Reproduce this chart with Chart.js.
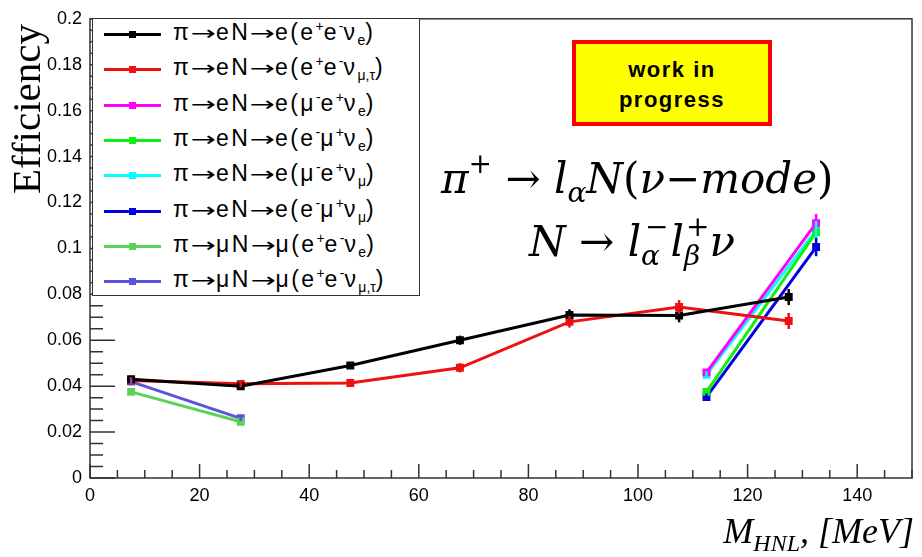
<!DOCTYPE html>
<html>
<head>
<meta charset="utf-8">
<script src="https://cdn.jsdelivr.net/npm/chart.js@4.4.0/dist/chart.umd.min.js"></script>
<style>
  body { margin: 0; background: #fff; }
  #wrap { position: relative; width: 922px; height: 557px; overflow: hidden; }
  #effChart { position: absolute; left: 0; top: 0; }
  #legend {
    position: absolute; left: 92px; top: 18px; width: 328px; height: 278px;
    background: #fff; border: 1.5px solid #333; box-sizing: border-box;
    font-family: "Liberation Sans", Arial, sans-serif; font-size: 23px; color: #000;
  }
  #legend .row { position: absolute; left: 0; height: 35px; width: 100%; }
  #legend .swatch { position: absolute; left: 11px; top: 16px; width: 57px; height: 3px; }
  #legend .mark { position: absolute; left: 25px; top: -2px; width: 7px; height: 7px; }
  #legend .txt { position: absolute; left: 80px; top: 3px; white-space: nowrap; line-height: 24px; letter-spacing: 2.4px; }
  #legend .ar { display: inline-block; font-family: "DejaVu Sans", sans-serif; font-size: 20px; transform: scaleX(1.5); margin: 0 4px; letter-spacing: 0; }
  #legend sup, #legend sub { font-size: 14px; line-height: 0; letter-spacing: 0; }
  #legend sup { vertical-align: 9px; }
  #legend sub { vertical-align: -5px; }
  #wip {
    position: absolute; left: 572px; top: 40px; width: 200px; height: 86px;
    background: #ffff00; border: 4px solid #ff0000; box-sizing: border-box;
    font-family: "Liberation Sans", Arial, sans-serif; font-weight: bold; font-size: 22px;
    letter-spacing: 1.5px; text-align: center; line-height: 30px; padding-top: 11px; color: #000;
  }
  .formula {
    position: absolute; font-family: "DejaVu Serif", serif; font-size: 42px;
    color: #000; white-space: nowrap; line-height: 46px;
  }
  .formula sup, .formula sub { font-size: 28px; line-height: 0; }
  .formula sup { vertical-align: 20px; }
  .formula sub { vertical-align: -9px; }
  #ytitle {
    position: absolute; left: 6px; top: 194px; transform-origin: 0 0;
    transform: rotate(-90deg);
    font-family: "Liberation Serif", "Times New Roman", serif; font-size: 41px; line-height: 41px; white-space: nowrap;
  }
  #xtitle {
    position: absolute; right: 8px; top: 510px;
    font-family: "Liberation Serif", serif; font-style: italic; font-size: 36px; white-space: nowrap;
  }
  #xtitle sub { font-size: 24px; vertical-align: -8px; line-height: 0; }
</style>
</head>
<body>
<div id="wrap">
  <canvas id="effChart" width="922" height="557"></canvas>
  <div id="legend"></div>
  <div id="wip">work in<br>progress</div>
  <div class="formula" id="f1" style="left:441px; top:156px;"><i>π</i><sup>+</sup> → <i>l</i><sub><i>α</i></sub><i>N</i>(<i>ν</i>−<i>mode</i>)</div>
  <div class="formula" id="f2" style="left:529px; top:219px;"><i>N</i> → <i>l</i><sub><i>α</i></sub><sup style="margin-left:-15px">−</sup><i style="margin-left:2px">l</i><sub><i>β</i></sub><sup style="margin-left:-14px">+</sup><i>ν</i></div>
  <div id="ytitle">Efficiency</div>
  <div id="xtitle">M<sub>HNL</sub>, [MeV]</div>
</div>
<script>
// Mass points (MeV)
const massE = [7.5, 27.5, 47.5, 67.5, 87.5, 107.5, 127.5];
const massHeavy = [112.5, 132.5];
const massMu = [7.5, 27.5];

// Efficiencies
const effEeeNuE = [0.043, 0.040, 0.049, 0.060, 0.071, 0.0708, 0.0788];
const effEeeNuMuTau = [0.0425, 0.041, 0.0414, 0.048, 0.068, 0.0745, 0.0684];
const errE = [0.0015, 0.0015, 0.0015, 0.002, 0.0025, 0.003, 0.0035];

const effMueNuE = [0.046, 0.111];
const effEmuNuE = [0.0375, 0.107];
const effMueNuMu = [0.045, 0.108];
const effEmuNuMu = [0.0353, 0.1006];
const errHeavy = [0.0015, 0.004];

const effMuEeNuE = [0.0375, 0.0245];
const effMuEeNuMuTau = [0.042, 0.026];
const errMu = [0.0012, 0.0012];

// Legend labels (with sub/superscripts)
const seriesLabels = [
  'π→eN→e(e<sup>+</sup>e<sup>-</sup>ν<sub>e</sub>)',
  'π→eN→e(e<sup>+</sup>e<sup>-</sup>ν<sub>μ,τ</sub>)',
  'π→eN→e(μ<sup>-</sup>e<sup>+</sup>ν<sub>e</sub>)',
  'π→eN→e(e<sup>-</sup>μ<sup>+</sup>ν<sub>e</sub>)',
  'π→eN→e(μ<sup>-</sup>e<sup>+</sup>ν<sub>μ</sub>)',
  'π→eN→e(e<sup>-</sup>μ<sup>+</sup>ν<sub>μ</sub>)',
  'π→μN→μ(e<sup>+</sup>e<sup>-</sup>ν<sub>e</sub>)',
  'π→μN→μ(e<sup>+</sup>e<sup>-</sup>ν<sub>μ,τ</sub>)'
];
const seriesColors = ['#000000', '#ee1111', '#ff00ff', '#11ee11', '#00ffff', '#0000e0', '#59d454', '#5954d8'];

// Axis ticks
const xTicks = [0, 20, 40, 60, 80, 100, 120, 140];
const yTicks = [0, 0.02, 0.04, 0.06, 0.08, 0.1, 0.12, 0.14, 0.16, 0.18, 0.2];

function points(xs, ys) {
  return xs.map((x, i) => ({ x: x, y: ys[i] }));
}

const seriesData = [
  [massE, effEeeNuE, errE],
  [massE, effEeeNuMuTau, errE],
  [massHeavy, effMueNuE, errHeavy],
  [massHeavy, effEmuNuE, errHeavy],
  [massHeavy, effMueNuMu, errHeavy],
  [massHeavy, effEmuNuMu, errHeavy],
  [massMu, effMuEeNuE, errMu],
  [massMu, effMuEeNuMuTau, errMu]
];

const datasets = seriesData.map((s, i) => ({
  label: seriesLabels[i].replace(/<[^>]+>/g, ''),
  data: points(s[0], s[1]),
  errors: s[2],
  borderColor: seriesColors[i],
  backgroundColor: seriesColors[i],
  borderWidth: 3,
  pointStyle: 'rect',
  pointRadius: 3.5,
  tension: 0
}));

// Vertical error bars
const errorBars = {
  id: 'errorBars',
  afterDatasetsDraw(chart) {
    const c = chart.ctx;
    const ys = chart.scales.y;
    chart.data.datasets.forEach((ds, i) => {
      const meta = chart.getDatasetMeta(i);
      c.save();
      c.strokeStyle = ds.borderColor;
      c.lineWidth = 2.5;
      meta.data.forEach((pt, j) => {
        const v = ds.data[j].y;
        const e = ds.errors[j];
        c.beginPath();
        c.moveTo(pt.x, ys.getPixelForValue(v - e));
        c.lineTo(pt.x, ys.getPixelForValue(v + e));
        c.stroke();
      });
      c.restore();
    });
  }
};

// ROOT-like frame with ticks drawn inside
const frame = {
  id: 'frame',
  beforeDatasetsDraw(chart) {
    const c = chart.ctx;
    const a = chart.chartArea;
    const xs = chart.scales.x;
    const ys = chart.scales.y;
    c.save();
    c.strokeStyle = '#333';
    c.lineWidth = 1.5;
    c.strokeRect(a.left, a.top, a.right - a.left, a.bottom - a.top);
    c.beginPath();
    for (let v = 0; v <= 150; v += 5) {
      const px = xs.getPixelForValue(v);
      const len = v % 20 === 0 ? 14 : 8;
      c.moveTo(px, a.bottom);
      c.lineTo(px, a.bottom - len);
    }
    for (let k = 0; k <= 40; k++) {
      const py = ys.getPixelForValue(k * 0.005);
      const len = k % 4 === 0 ? 25 : 13;
      c.moveTo(a.left, py);
      c.lineTo(a.left + len, py);
    }
    c.stroke();
    c.restore();
  }
};

const ctx = document.getElementById('effChart').getContext('2d');
const effChart = new Chart(ctx, {
  type: 'line',
  data: { datasets: datasets },
  options: {
    responsive: false,
    animation: false,
    devicePixelRatio: 1,
    layout: { padding: { top: 18, right: 10, left: 0, bottom: 0 } },
    plugins: { legend: { display: false }, tooltip: { enabled: false } },
    scales: {
      x: {
        type: 'linear', min: 0, max: 150,
        grid: { display: false, drawTicks: false },
        border: { display: false },
        afterBuildTicks: s => { s.ticks = xTicks.map(v => ({ value: v })); },
        afterFit: s => { s.height = 79; },
        ticks: {
          padding: 7, color: '#000', maxRotation: 0,
          font: { family: '"Liberation Sans", Arial, sans-serif', size: 18 },
          callback: v => String(v)
        }
      },
      y: {
        type: 'linear', min: 0, max: 0.2,
        grid: { display: false, drawTicks: false },
        border: { display: false },
        afterBuildTicks: s => { s.ticks = yTicks.map(v => ({ value: v })); },
        afterFit: s => { s.width = 90; },
        ticks: {
          padding: 8, color: '#000',
          font: { family: '"Liberation Sans", Arial, sans-serif', size: 18 },
          callback: v => String(+v.toFixed(3))
        }
      }
    }
  },
  plugins: [frame, errorBars]
});

// HTML legend built from the datasets
const legendBox = document.getElementById('legend');
effChart.data.datasets.forEach((ds, i) => {
  const row = document.createElement('div');
  row.className = 'row';
  row.style.top = (i * 35.3 - 2) + 'px';
  const text = seriesLabels[i].replace(/→/g, '<span class="ar">→</span>');
  row.innerHTML = '<div class="swatch" style="background:' + ds.borderColor + '">' +
    '<div class="mark" style="background:' + ds.borderColor + '"></div></div>' +
    '<div class="txt">' + text + '</div>';
  legendBox.appendChild(row);
});
</script>
</body>
</html>
